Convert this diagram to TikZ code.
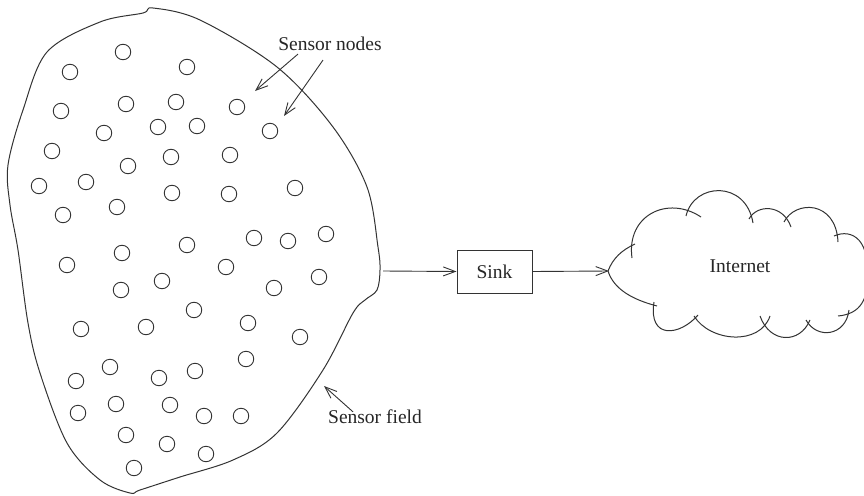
\documentclass[tikz,border=0pt]{standalone}
\usepackage{fontspec}
\setmainfont{Liberation Serif}
\usetikzlibrary{arrows.meta}
\begin{document}
\begin{tikzpicture}[x=1pt,y=-1pt,
  ink/.style={draw=black!80, line width=1pt},
  sensor/.style={circle, draw=black!80, line width=0.9pt, minimum size=15.5pt, inner sep=0pt},
  lbl/.style={font=\fontsize{19.5}{23}\selectfont, text=black!85, inner sep=0pt},
  arr/.style={draw=black!80, line width=0.9pt, -{Straight Barb[length=12pt,width=9pt]}},
  sinkbox/.style={draw=black!80, line width=1pt, minimum width=75pt, minimum height=43pt, inner sep=0pt, font=\fontsize{19.5}{23}\selectfont, text=black!85}]
\useasboundingbox (0,0) rectangle (864,495);
% sensor field outline
\draw[ink] plot[smooth cycle, tension=0.55] coordinates {
 (153,8) (200,20) (277,67) (333,127) (367,187) (378,247) (380,270) (377,290)
 (365,300) (353,313) (323,370) (277,433) (233,460) (180,477) (140,490) (130,493)
 (100,480) (67,443) (40,373) (28,323) (18,250) (10,205) (8,165) (23,110) (47,52)
 (100,22) (143,13)};
% sensor nodes
\foreach \x/\y [count=\i] in {123/52,70/72,187/67,61/111,126/104,176/102,237/107,104/133,158/127,197/126,270/131,52/151,128/166,171/157,230/155,39/186,86/182,172/193,229/194,295/188,63/215,117/207,254/238,288/241,326/234,122/253,187/245,67/265,121/290,162/281,226/267,274/288,319/277,194/310,81/329,146/327,248/323,300/337,246/359,110/367,76/381,159/378,195/371,78/413,116/404,170/405,204/416,241/416,126/435,167/444,206/454,134/468}
  \node[sensor] (s\i) at (\x,\y) {};
% labels
\node[lbl] (nodeslbl) at (330,44) {Sensor nodes};
\coordinate (na) at (255,91);
\coordinate (nb) at (284,116);
\draw[arr] ([xshift=-32pt,yshift=-3pt]nodeslbl.south) -- (na);
\draw[arr] ([xshift=-7pt,yshift=-9pt]nodeslbl.south) -- (nb);
\node[lbl] (fieldlbl) at (375,417) {Sensor field};
\coordinate (fp) at (324,386);
\draw[arr] ([xshift=-22pt,yshift=-2pt]fieldlbl.north) -- (fp);
% sink
\coordinate (fieldout) at (383,271);
\node[sinkbox] (sink) at (494.5,271.5) {Sink};
\coordinate (cloudin) at (609,271);
\draw[arr] (fieldout) -- (sink.west);
\draw[arr] (sink.east) -- (cloudin);
% cloud
\begin{scope}[ink]
\draw (608,271) .. controls (613,258) and (622,250) .. (635,244);
\draw (632,258) .. controls (626,215) and (668,195) .. (701,217);
\draw (686,216) .. controls (694,182) and (746,180) .. (753,223);
\draw (749,219) .. controls (757,204) and (783,204) .. (791,227);
\draw (784,222) .. controls (795,200) and (836,200) .. (838,242);
\draw (834,236) .. controls (852,228) and (872,240) .. (866,282);
\draw (867,268) .. controls (870,300) and (860,314) .. (838,316);
\draw (849,310) .. controls (846,336) and (817,340) .. (806,320);
\draw (810,320) .. controls (800,344) and (770,344) .. (760,316);
\draw (770,316) .. controls (760,346) and (710,342) .. (694,316);
\draw (698,315) .. controls (680,336) and (648,340) .. (654,302);
\draw (608,271) .. controls (614,290) and (634,300) .. (657,306);
\end{scope}
\node[lbl] (internet) at (740,266) {Internet};
\end{tikzpicture}
\end{document}
